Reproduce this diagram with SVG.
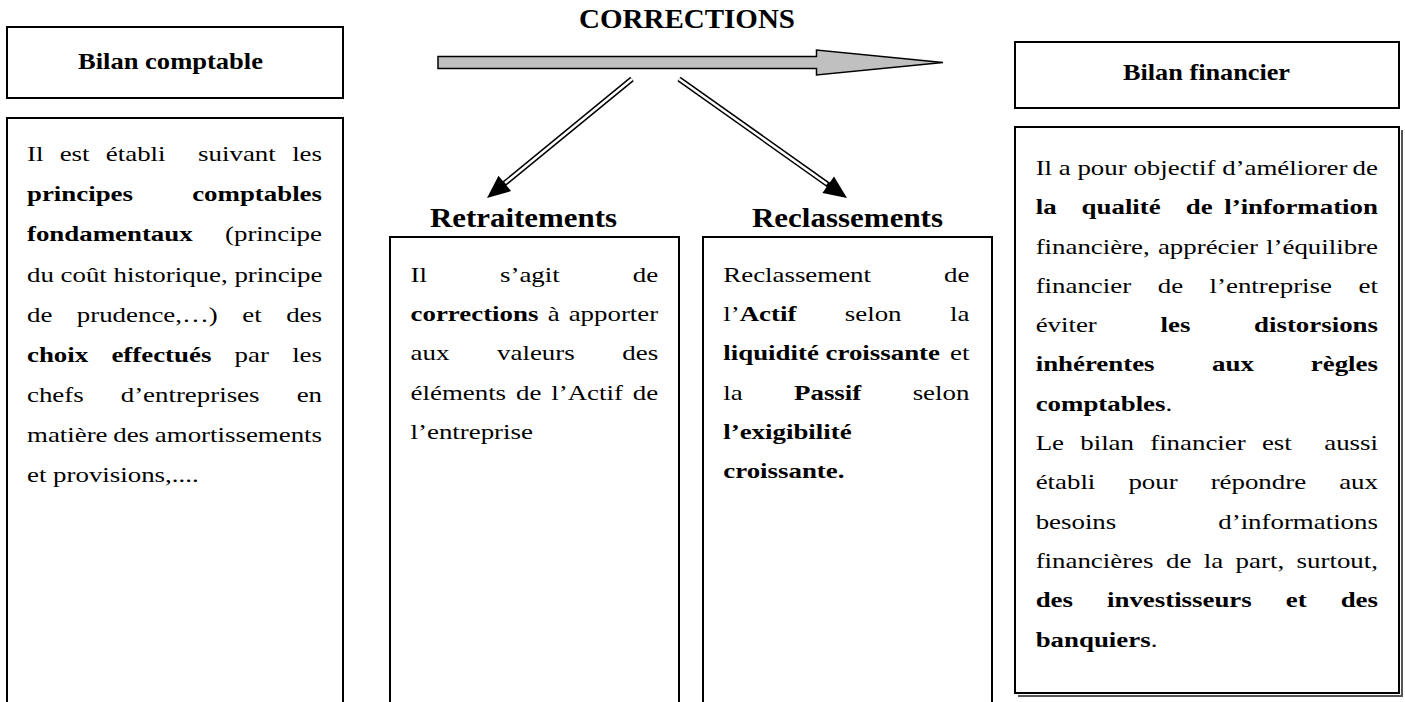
<svg xmlns="http://www.w3.org/2000/svg" width="1405" height="702" viewBox="0 0 1405 702">
<style>
.box{fill:#fff;stroke:#000;stroke-width:2}
.t{font-family:"Liberation Serif","Times New Roman",serif;fill:#000}
.b{font-weight:bold}
.body{font-size:22px}
.end{text-anchor:end}
.title{font-family:"Liberation Serif","Times New Roman",serif;font-weight:bold;fill:#000}
.dbl{stroke:#000;stroke-width:5.5}
.gap{stroke:#fff;stroke-width:2.5}
</style>
<rect width="1405" height="702" fill="#fff"/>

<g id="connectors">
<polygon points="438,56.5 816.5,56.5 816.5,50 943,62.5 816.5,75 816.5,68.5 438,68.5" fill="#c0c0c0" stroke="#000" stroke-width="1.5" stroke-linejoin="miter"/>
<line class="dbl" x1="632" y1="79" x2="502" y2="185.5"/>
<line class="gap" x1="632" y1="79" x2="505" y2="183"/>
<polygon points="487,198 511.1,191.1 498.5,175.7" fill="#000"/>
<line class="dbl" x1="679" y1="79" x2="830" y2="186"/>
<line class="gap" x1="679" y1="79" x2="827" y2="184"/>
<polygon points="847,198 822.4,192.9 834,176.5" fill="#000"/>
</g>

<g id="corrections">
<text class="title" x="579" y="28" font-size="27" textLength="216" lengthAdjust="spacingAndGlyphs">CORRECTIONS</text>
</g>

<g id="bilan-comptable">
<rect class="box" x="7" y="27" width="336" height="71"/>
<text class="title" x="78" y="69" font-size="24" textLength="185" lengthAdjust="spacingAndGlyphs">Bilan comptable</text>
<rect class="box" x="7" y="118" width="336" height="600"/>
<g class="t body" transform="scale(1.2218,1)">
<text x="22.09" y="161">Il</text><text x="48.86" y="161">est</text><text x="86.63" y="161">établi</text><text x="162.16" y="161">suivant</text><text class="end" x="263.54" y="161">les</text>
<text class="b" x="22.09" y="201">principes</text><text class="b end" x="263.54" y="201">comptables</text>
<text class="b" x="22.09" y="241.5">fondamentaux</text><text class="end" x="263.54" y="241.5">(principe</text>
<text x="22.09" y="282">du coût historique, principe</text>
<text x="22.09" y="322">de</text><text x="62.87" y="322">prudence,…)</text><text x="198.34" y="322">et</text><text class="end" x="263.54" y="322">des</text>
<text class="b" x="22.09" y="362">choix</text><text class="b" x="91.20" y="362">effectués</text><text x="192.02" y="362">par</text><text class="end" x="263.54" y="362">les</text>
<text x="22.09" y="402">chefs</text><text x="98.82" y="402">d’entreprises</text><text class="end" x="263.54" y="402">en</text>
<text x="22.09" y="442">matière</text><text x="92.70" y="442">des</text><text class="end" x="263.54" y="442">amortissements</text>
<text x="22.09" y="482">et provisions,....</text>
</g>
</g>

<g id="retraitements">
<text class="title" x="430" y="227" font-size="27" textLength="187" lengthAdjust="spacingAndGlyphs">Retraitements</text>
<rect class="box" x="390" y="237" width="289" height="480"/>
<g class="t body" transform="scale(1.2218,1)">
<text x="336.06" y="282">Il</text><text x="409.28" y="282">s’agit</text><text class="end" x="538.71" y="282">de</text>
<text class="b" x="336.06" y="321">corrections</text><text x="448.39" y="321">à</text><text class="end" x="538.71" y="321">apporter</text>
<text x="336.06" y="360">aux</text><text x="406.83" y="360">valeurs</text><text class="end" x="538.71" y="360">des</text>
<text x="336.06" y="400">éléments</text><text x="422.36" y="400">de</text><text x="451.21" y="400">l’Actif</text><text class="end" x="538.71" y="400">de</text>
<text x="336.06" y="439">l’entreprise</text>
</g>
</g>

<g id="reclassements">
<text class="title" x="752" y="227" font-size="27" textLength="191" lengthAdjust="spacingAndGlyphs">Reclassements</text>
<rect class="box" x="703" y="237" width="289" height="480"/>
<g class="t body" transform="scale(1.2218,1)">
<text x="591.99" y="282">Reclassement</text><text class="end" x="793.40" y="282">de</text>
<text x="591.99" y="321">l’<tspan class="b">Actif</tspan></text><text x="691.45" y="321">selon</text><text class="end" x="793.40" y="321">la</text>
<text class="b" x="591.99" y="360">liquidité croissante</text><text class="end" x="793.40" y="360">et</text>
<text x="591.99" y="400">la</text><text class="b" x="649.91" y="400">Passif</text><text class="end" x="793.40" y="400">selon</text>
<text class="b" x="591.99" y="439">l’exigibilité</text>
<text class="b" x="591.99" y="478">croissante.</text>
</g>
</g>

<g id="bilan-financier">
<rect class="box" x="1015" y="42" width="384" height="66"/>
<text class="title" x="1123" y="80" font-size="23" textLength="167" lengthAdjust="spacingAndGlyphs">Bilan financier</text>
<polyline points="1018,696 1402,696 1402,130" fill="none" stroke="#555" stroke-width="2"/>
<rect class="box" x="1015" y="127" width="384" height="566"/>
<g class="t body" transform="scale(1.2218,1)">
<text x="847.67" y="175">Il a pour objectif d’améliorer</text><text class="end" x="1127.82" y="175">de</text>
<text class="b" x="847.67" y="214">la</text><text class="b" x="885.24" y="214">qualité</text><text class="b" x="970.48" y="214">de</text><text class="b end" x="1127.82" y="214">l’information</text>
<text x="847.67" y="254">financière,</text><text x="947.73" y="254">apprécier</text><text class="end" x="1127.82" y="254">l’équilibre</text>
<text x="847.67" y="293">financier</text><text x="947.56" y="293">de</text><text x="990.03" y="293">l’entreprise</text><text class="end" x="1127.82" y="293">et</text>
<text x="847.67" y="332">éviter</text><text class="b" x="949.84" y="332">les</text><text class="b end" x="1127.82" y="332">distorsions</text>
<text class="b" x="847.67" y="371">inhérentes</text><text class="b" x="992.02" y="371">aux</text><text class="b end" x="1127.82" y="371">règles</text>
<text x="847.67" y="411"><tspan class="b">comptables</tspan>.</text>
<text x="847.67" y="450">Le</text><text x="884.15" y="450">bilan</text><text x="941.41" y="450">financier</text><text x="1032.86" y="450">est</text><text class="end" x="1127.82" y="450">aussi</text>
<text x="847.67" y="489">établi</text><text x="923.55" y="489">pour</text><text x="990.87" y="489">répondre</text><text class="end" x="1127.82" y="489">aux</text>
<text x="847.67" y="529">besoins</text><text class="end" x="1127.82" y="529">d’informations</text>
<text x="847.67" y="568">financières</text><text x="954.35" y="568">de</text><text x="985.27" y="568">la</text><text x="1011.32" y="568">part,</text><text class="end" x="1127.82" y="568">surtout,</text>
<text class="b" x="847.67" y="607">des</text><text class="b" x="906.02" y="607">investisseurs</text><text class="b" x="1052.38" y="607">et</text><text class="b end" x="1127.82" y="607">des</text>
<text x="847.67" y="647"><tspan class="b">banquiers</tspan>.</text>
</g>
</g>
</svg>
